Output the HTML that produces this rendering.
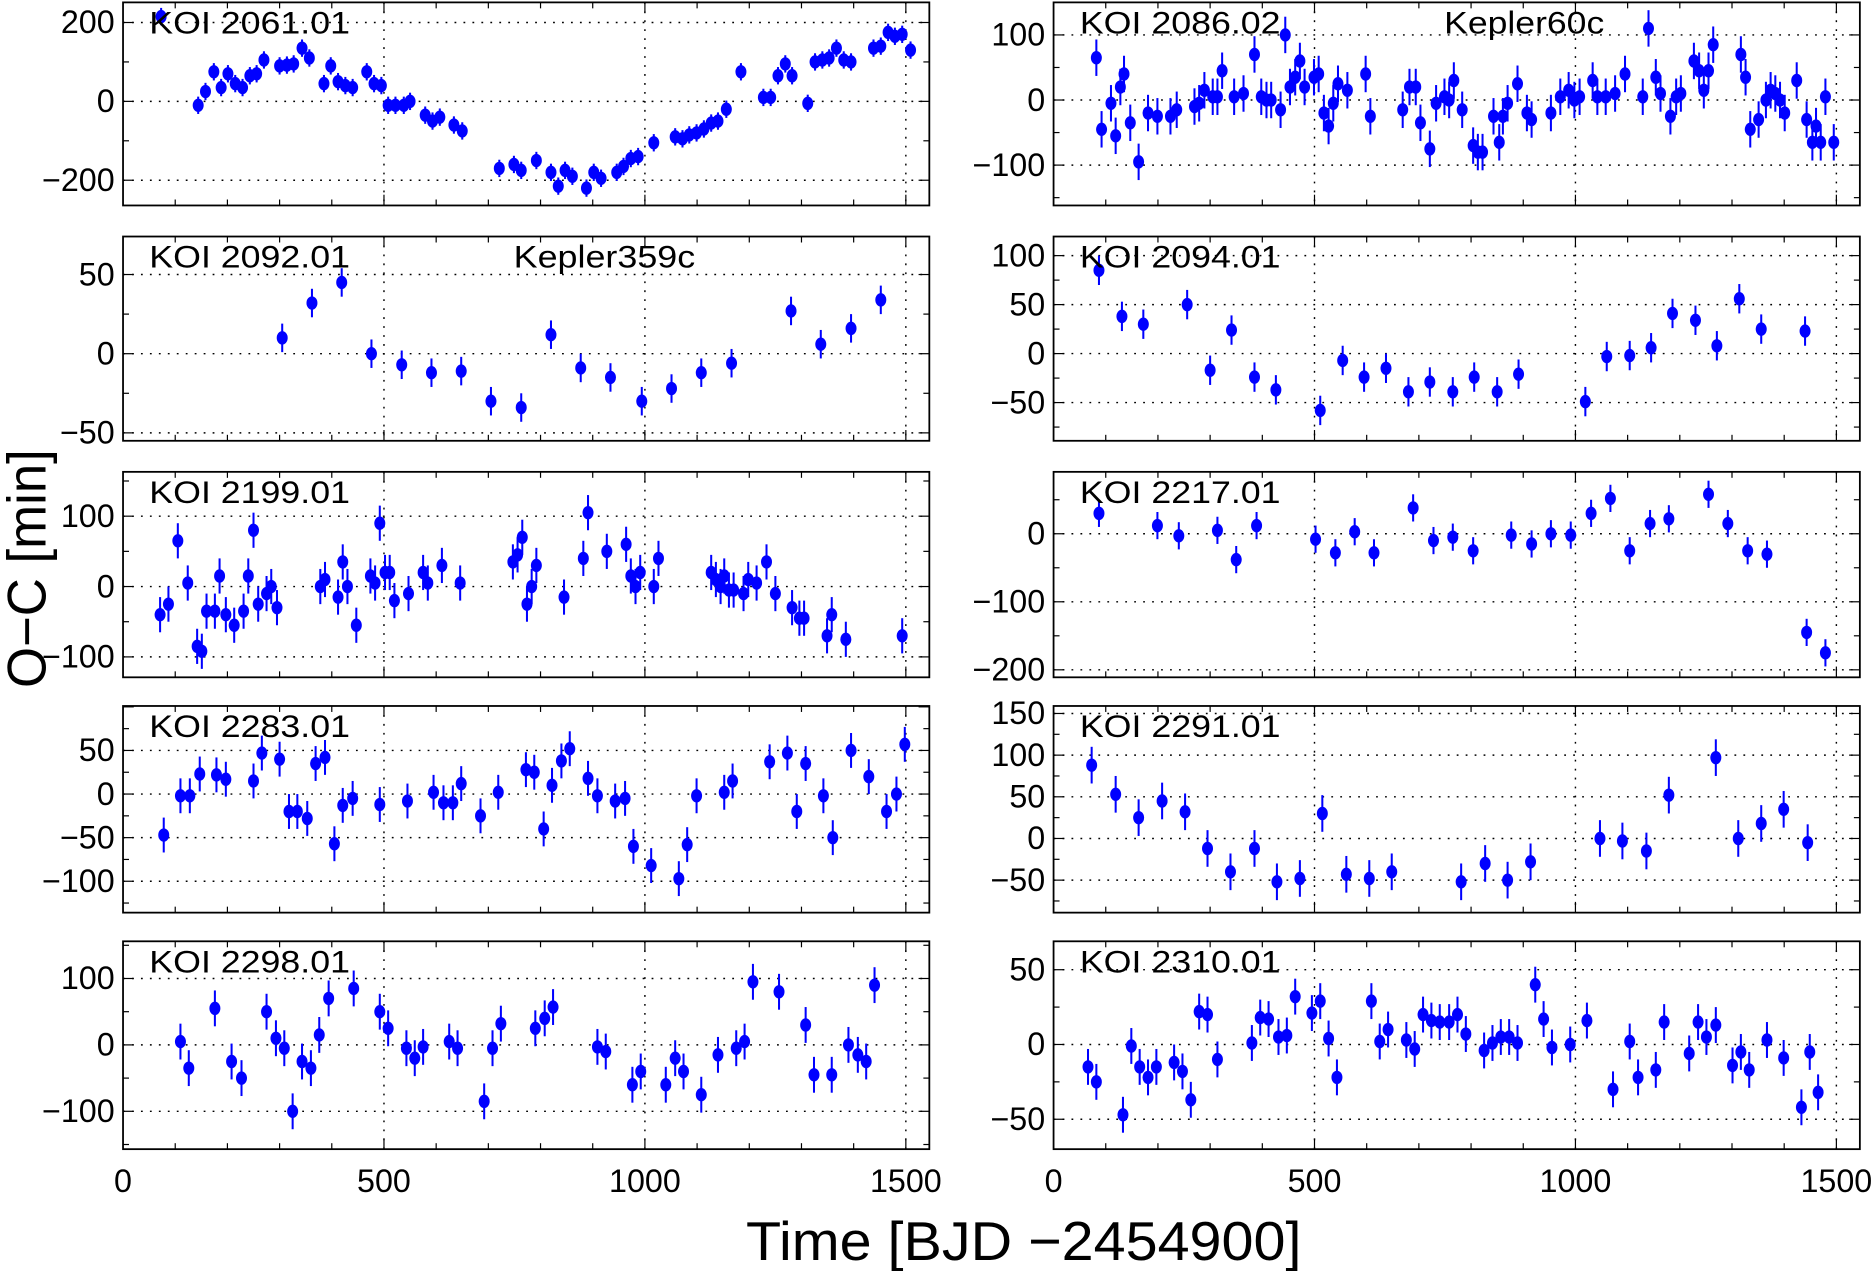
<!DOCTYPE html>
<html><head><meta charset="utf-8"><style>
html,body{margin:0;padding:0;background:#fff;}
svg{display:block;font-family:"Liberation Sans",sans-serif;}
</style></head><body>
<svg id="fig" width="1873" height="1271" viewBox="0 0 1568 1064" preserveAspectRatio="none" xmlns="http://www.w3.org/2000/svg">
<text x="0" y="0" transform="translate(38,476) rotate(-90)" text-anchor="middle" font-size="46" textLength="200" lengthAdjust="spacingAndGlyphs">O−C [min]</text>
<text x="857" y="1055" text-anchor="middle" font-size="46" textLength="465" lengthAdjust="spacingAndGlyphs">Time [BJD −2454900]</text>
</svg>
<script>
// ---- data (time in days, O-C in minutes) ----
const names = ["KOI 2061.01","KOI 2086.02","KOI 2092.01","KOI 2094.01","KOI 2199.01","KOI 2217.01","KOI 2283.01","KOI 2291.01","KOI 2298.01","KOI 2310.01"];
const extraLabels = ["","Kepler60c","Kepler359c","","","","","","",""];
const yTicks = [[200,0,-200],[100,0,-100],[50,0,-50],[100,50,0,-50],[100,0,-100],[0,-100,-200],[50,0,-50,-100],[150,100,50,0,-50],[100,0,-100],[50,0,-50]];
const yRanges = [[-264,251],[-162,150],[-55,74],[-89,119.5],[-129,163],[-211,91],[-136,101],[-89,159],[-157,156],[-70,69]];
const errSize = [22,28,9,15,25,20,20,22,27,12];
const xTicks = [0,500,1000,1500];

const t0 = [73,144,158,174,188,201,215,229,243,256,270,300,314,327,343,357,385,398,412,426,440,467,481,495,508,522,538,550,579,593,607,634,650,721,749,763,792,820,834,847,861,888,902,916,946,959,973,987,1017,1058,1072,1085,1099,1113,1127,1140,1156,1184,1227,1241,1255,1269,1282,1312,1326,1340,1353,1367,1381,1395,1438,1452,1466,1479,1493,1509];
const v0 = [215,-10,25,75,35,70,45,35,65,70,105,90,92,95,135,110,45,90,50,40,35,75,45,40,-10,-10,-10,0,-35,-50,-40,-60,-75,-170,-160,-175,-150,-180,-215,-175,-190,-220,-180,-195,-180,-165,-145,-140,-105,-90,-95,-85,-80,-70,-55,-50,-20,75,10,10,65,95,65,-5,100,105,110,135,105,100,135,140,175,165,170,130];

const t1 = [82,92,110,119,128,135,147,163,181,199,224,236,270,279,289,305,314,323,346,364,385,398,408,417,435,444,453,463,472,481,499,508,518,527,536,545,563,598,607,669,682,694,703,721,733,749,758,767,783,804,813,822,843,854,861,870,889,907,916,953,971,987,998,1008,1033,1042,1058,1076,1095,1129,1140,1154,1163,1182,1193,1202,1227,1237,1246,1255,1264,1317,1326,1335,1351,1365,1374,1383,1392,1401,1424,1443,1454,1461,1470,1479,1495];
const v1 = [65,-45,-5,-55,20,40,-35,-95,-20,-25,-25,-15,-10,-5,15,5,5,45,5,10,70,5,0,0,-15,100,20,35,60,20,35,40,-20,-40,-5,25,15,40,-25,-15,20,20,-35,-75,-5,5,0,30,-15,-70,-80,-80,-25,-65,-25,-5,25,-20,-30,-20,5,15,0,5,30,5,5,10,40,5,110,35,10,-25,5,10,60,45,15,45,85,70,35,-45,-30,0,15,10,0,-20,30,-30,-65,-40,-65,5,-65];

const t2 = [305,362,419,476,534,591,648,705,763,820,877,934,994,1051,1108,1166,1280,1337,1395,1452];
const v2 = [10,32,45,0,-7,-12,-11,-30,-34,12,-9,-15,-30,-22,-12,-6,27,6,16,34];

const t3 = [87,131,172,256,300,341,385,426,511,554,595,637,680,721,765,806,850,891,1019,1060,1104,1145,1186,1230,1271,1314,1356,1440];
const v3 = [85,38,30,50,-17,24,-24,-37,-58,-7,-24,-15,-39,-29,-39,-24,-39,-21,-49,-3,-2,6,41,34,8,56,25,23];

const t4 = [71,87,105,124,142,151,160,176,185,197,213,231,240,250,259,275,284,295,378,387,412,421,430,447,474,483,492,502,511,520,547,575,584,611,646,747,756,765,774,783,792,845,882,891,927,964,973,982,991,1017,1026,1127,1136,1145,1152,1161,1170,1189,1198,1214,1233,1250,1282,1296,1305,1349,1358,1385,1493];
const v4 = [-40,-25,65,5,-85,-92,-35,-35,15,-40,-55,-35,15,80,-25,-10,0,-30,0,10,-15,35,0,-55,15,5,90,20,20,-20,-10,20,5,30,5,35,45,70,-25,0,30,-15,40,105,50,60,15,0,20,0,40,20,10,0,15,-5,-5,-10,10,5,35,-10,-30,-45,-45,-70,-40,-75,-70];

const t5 = [87,199,240,314,350,389,502,540,577,614,689,728,765,804,877,916,953,991,1030,1067,1104,1143,1179,1255,1292,1330,1367,1443,1479];
const v5 = [30,12,-3,5,-38,12,-8,-28,3,-28,38,-10,-5,-25,-2,-15,0,-2,30,52,-25,15,22,58,15,-25,-30,-145,-175];

const t6 = [78,110,128,147,179,197,250,266,300,318,334,353,369,387,405,421,440,492,545,595,614,632,648,685,719,772,788,806,822,840,856,891,909,943,962,978,1012,1065,1081,1099,1152,1168,1239,1273,1291,1308,1342,1360,1395,1429,1463,1482,1498];
const v6 = [-47,-2,-2,23,22,17,15,47,40,-20,-20,-28,35,42,-57,-13,-5,-12,-8,2,-10,-10,12,-25,2,28,25,-40,10,38,52,18,-2,-8,-5,-60,-82,-97,-58,-2,2,15,37,47,-20,35,-2,-50,50,20,-20,0,57];

const t7 = [73,119,163,208,252,295,339,385,428,472,515,561,605,648,781,827,870,914,1047,1090,1136,1179,1269,1312,1356,1399,1445];
const v7 = [88,53,25,45,32,-12,-40,-12,-52,-48,30,-43,-48,-40,-52,-30,-50,-28,0,-3,-15,52,97,0,18,35,-5];

const t8 = [110,126,176,208,227,275,293,309,325,343,360,376,394,442,492,508,543,559,575,625,641,692,708,724,790,808,824,909,925,976,992,1040,1058,1074,1108,1140,1175,1191,1207,1257,1308,1324,1358,1390,1408,1424,1440];
const v8 = [5,-35,55,-25,-50,50,10,-5,-100,-25,-35,15,70,85,50,25,-5,-20,-3,5,-5,-85,-5,32,25,40,57,-3,-10,-60,-40,-60,-20,-40,-75,-15,-5,5,95,80,30,-45,-45,0,-15,-25,90];

const t9 = [66,82,133,149,165,181,197,231,247,263,279,295,314,380,396,412,431,447,463,495,511,527,543,609,625,641,676,692,708,724,740,758,774,790,825,841,857,873,889,923,939,955,990,1022,1072,1104,1120,1154,1170,1218,1235,1251,1269,1301,1317,1333,1367,1399,1433,1449,1465];
const v9 = [-15,-25,-47,-1,-15,-22,-15,-12,-18,-37,22,20,-10,1,18,17,5,6,32,21,29,4,-22,29,2,10,3,-3,20,16,15,15,20,7,-4,1,5,5,1,40,17,-2,0,16,-30,2,-22,-17,15,-6,15,5,13,-14,-5,-17,3,-9,-42,-5,-32];

const times = [t0,t1,t2,t3,t4,t5,t6,t7,t8,t9];
const vals = [v0,v1,v2,v3,v4,v5,v6,v7,v8,v9];

// ---- layout ----
const NS = "http://www.w3.org/2000/svg";
const svg = document.getElementById('fig');
const colsX = [[103,778],[882,1557]];
const rowsY = [[2,172],[198,369],[395,567],[591,764],[788,962]];
const xMax = 1545;
function mk(tag, attrs, parent){ const e=document.createElementNS(NS,tag); for(const k in attrs) e.setAttribute(k,attrs[k]); (parent||svg).appendChild(e); return e; }

for(let p=0;p<10;p++){
  const [L,R] = colsX[p%2];
  const [T,B] = rowsY[Math.floor(p/2)];
  const [ymin,ymax] = yRanges[p];
  const xs = d => L + (d/xMax)*(R-L);
  const ys = v => B - (v-ymin)/(ymax-ymin)*(B-T);
  const g = mk('g',{});
  
  
  xTicks.forEach(d=>{ if(d>0){ const l=mk('line',{x1:xs(d),x2:xs(d),y1:T,y2:B,stroke:'#000','stroke-width':1.2,'stroke-dasharray':'1.5 6'},g);
      }});
  yTicks[p].forEach(v=>{ const l=mk('line',{x1:L,x2:R,y1:ys(v),y2:ys(v),stroke:'#000','stroke-width':1.2,'stroke-dasharray':'1.5 6'},g);
      });
  for(let d=100; d<xMax; d+=100){ const tl = (d%500===0)?9:5;
    mk('line',{x1:xs(d),x2:xs(d),y1:B,y2:B-tl,stroke:'#000','stroke-width':1},g);
    mk('line',{x1:xs(d),x2:xs(d),y1:T,y2:T+tl,stroke:'#000','stroke-width':1},g); }
  const step = yTicks[p][0]-yTicks[p][1];
  const half = step/2;
  for(let v=Math.ceil(ymin/half)*half; v<=ymax; v+=half){ const tl = (Math.abs(v%step)<1e-6)?9:5;
    mk('line',{x1:L,x2:L+tl,y1:ys(v),y2:ys(v),stroke:'#000','stroke-width':1},g);
    mk('line',{x1:R,x2:R-tl,y1:ys(v),y2:ys(v),stroke:'#000','stroke-width':1},g); }
  yTicks[p].forEach(v=>{ const t=mk('text',{x:L-7,y:ys(v)+9,'text-anchor':'end','font-size':27},g);
    t.textContent = (v<0?'−':'')+Math.abs(v);
      });
  const ts=times[p], vs=vals[p];
  for(let i=0;i<ts.length;i++){
    const cx=xs(ts[i]), cy=ys(vs[i]);
    const y1=Math.max(T,ys(vs[i]+errSize[p])), y2=Math.min(B,ys(vs[i]-errSize[p]));
    const eb=mk('line',{x1:cx,x2:cx,y1:y1,y2:y2,stroke:'#0000ff','stroke-width':1.7},g);
     
    const pt=mk('ellipse',{cx:cx,cy:cy,rx:4.6,ry:5.6,fill:'#0000ff'},g);
     
  }
  const fr=mk('rect',{x:L,y:T,width:R-L,height:B-T,fill:'none',stroke:'#000','stroke-width':1.5},g);
   
  const tt=mk('text',{x:L+22,y:T+26,'font-size':26,textLength:168,lengthAdjust:'spacingAndGlyphs'},g);
  tt.textContent=names[p];
   
  if(extraLabels[p]){ const et=mk('text',{x:L+327,y:T+26,'font-size':26,textLength:(p===1?134:152),lengthAdjust:'spacingAndGlyphs'},g);
    et.textContent=extraLabels[p];
      }
  if(Math.floor(p/2)===4){ xTicks.forEach(d=>{ const t=mk('text',{x:xs(d),y:B+36,'text-anchor':'middle','font-size':27},g);
    t.textContent=d;   }); }
}
</script>
</body></html>
